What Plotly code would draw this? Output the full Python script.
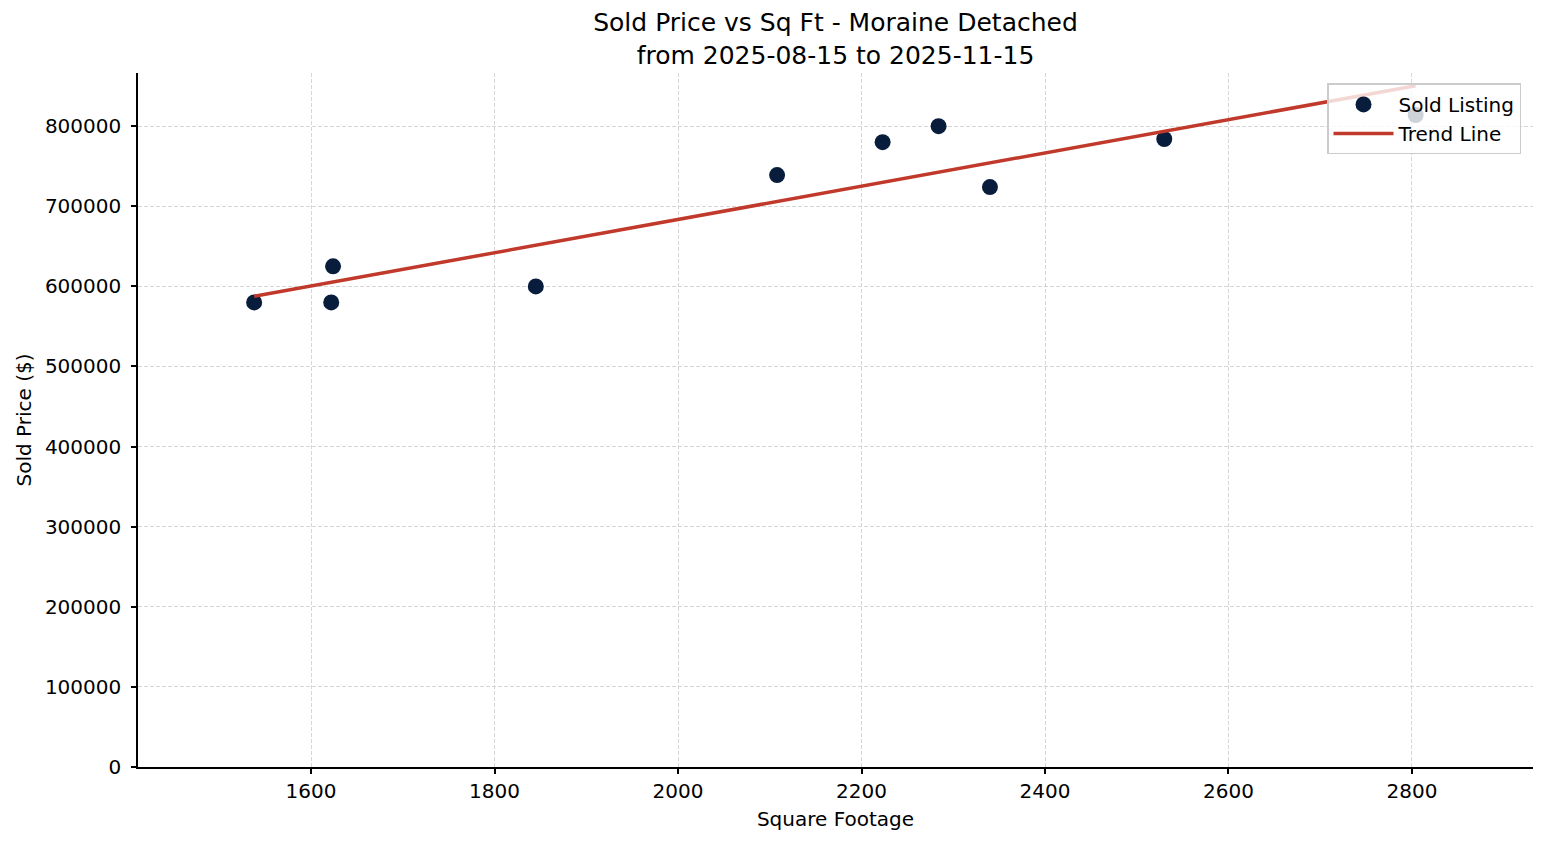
import numpy as np
import plotly.graph_objects as go

# Sold listings
sq_ft = [1538, 1624, 1622, 1845, 2108, 2223, 2284, 2340, 2530, 2804]
sold_price = [580000, 625000, 580000, 600000, 739000, 780000, 800000, 724000, 784000, 814000]

title_text = "Sold Price vs Sq Ft - Moraine Detached<br>from 2025-08-15 to 2025-11-15"
y_ticks = [0, 100000, 200000, 300000, 400000, 500000, 600000, 700000, 800000]
x_ticks = [1600, 1800, 2000, 2200, 2400, 2600, 2800]

# Least-squares trend line across the sold range
slope, intercept = np.polyfit(sq_ft, sold_price, 1)
trend_x = [min(sq_ft), max(sq_ft)]
trend_y = [slope * x + intercept for x in trend_x]

font = "DejaVu Sans"

# page body has an 8px margin, so the figure is a bit smaller than the window
W, H = 1539, 837

fig = go.Figure()

fig.add_trace(go.Scatter(
    x=sq_ft, y=sold_price, mode="markers", name="Sold Listing",
    marker=dict(color="#081d3c", size=16, line=dict(width=0)),
))

fig.add_trace(go.Scatter(
    x=trend_x, y=trend_y, mode="lines", name="Trend Line",
    line=dict(color="#c0392b", width=3.5),
))

fig.update_layout(
    width=W, height=H,
    margin=dict(l=130, r=14, t=65, b=78),
    paper_bgcolor="white", plot_bgcolor="white",
    font=dict(family=font, size=20, color="black"),
    title=dict(text=title_text, x=0.5, xref="paper", xanchor="center",
               y=1 - 23 / H, yref="container", yanchor="top",
               font=dict(family=font, size=25, color="black")),
    showlegend=True,
    legend=dict(x=0.9914, y=0.985, xanchor="right", yanchor="top",
                bgcolor="rgba(255,255,255,0.8)", bordercolor="#cccccc", borderwidth=1.5,
                font=dict(family=font, size=20, color="black"),
                itemwidth=60, tracegroupgap=0),
)

grid = dict(showgrid=True, gridcolor="#d6d6d6", gridwidth=1, griddash="4px,2px")

fig.update_xaxes(
    range=[1411.4, 2931.9], tickvals=x_ticks, ticktext=[str(v) for v in x_ticks],
    showline=True, linecolor="black", linewidth=1.5, mirror=False,
    ticks="outside", ticklen=5, tickwidth=1.5, tickcolor="black",
    zeroline=False, **grid,
    title=dict(text="Square Footage", standoff=10, font=dict(family=font, size=20)),
)

fig.update_yaxes(
    range=[0, 866400], tickvals=y_ticks, ticktext=[str(v) for v in y_ticks],
    showline=True, linecolor="black", linewidth=1.5, mirror=False,
    ticks="outside", ticklen=5, tickwidth=1.5, tickcolor="black",
    ticklabelstandoff=6,
    zeroline=False, **grid,
    title=dict(text="Sold Price ($)", standoff=8, font=dict(family=font, size=20)),
)

fig.write_html("out.html")
